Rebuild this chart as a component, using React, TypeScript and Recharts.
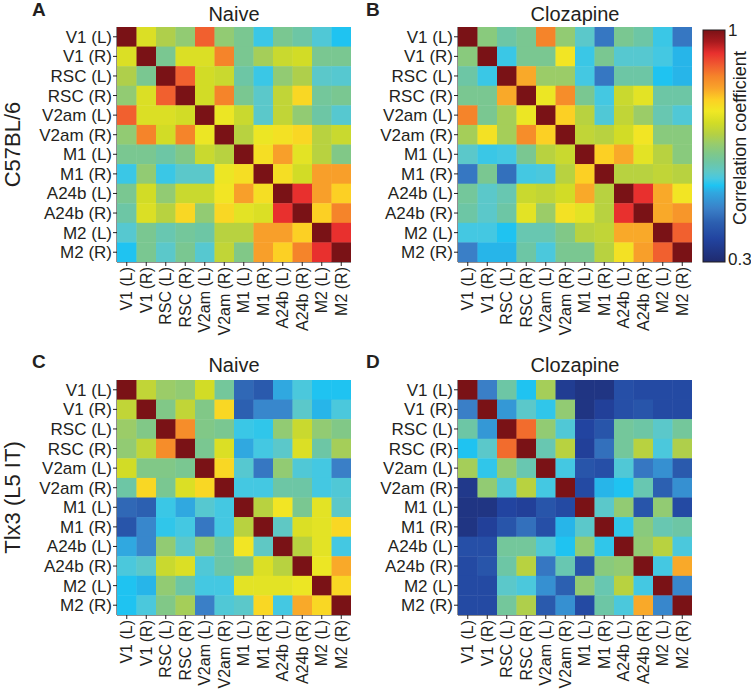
import React from 'react';
import { ScatterChart, Scatter, XAxis, YAxis } from 'recharts';

// region labels (rows top->bottom, columns left->right)
const REGIONS = ['V1 (L)', 'V1 (R)', 'RSC (L)', 'RSC (R)', 'V2am (L)', 'V2am (R)', 'M1 (L)', 'M1 (R)', 'A24b (L)', 'A24b (R)', 'M2 (L)', 'M2 (R)'];

// correlation matrices
const C57_NAIVE = [
  [1, 0.73, 0.68, 0.65, 0.89, 0.65, 0.62, 0.545, 0.62, 0.6, 0.56, 0.53],
  [0.73, 1, 0.62, 0.73, 0.73, 0.86, 0.62, 0.67, 0.71, 0.72, 0.62, 0.62],
  [0.68, 0.62, 1, 0.89, 0.72, 0.71, 0.6, 0.545, 0.65, 0.68, 0.57, 0.565],
  [0.65, 0.73, 0.89, 1, 0.72, 0.86, 0.62, 0.57, 0.7, 0.78, 0.61, 0.62],
  [0.89, 0.73, 0.73, 0.72, 1, 0.75, 0.71, 0.57, 0.7, 0.65, 0.6, 0.565],
  [0.65, 0.86, 0.72, 0.86, 0.75, 1, 0.69, 0.75, 0.765, 0.78, 0.69, 0.71],
  [0.62, 0.62, 0.6, 0.63, 0.71, 0.69, 1, 0.77, 0.83, 0.74, 0.69, 0.63],
  [0.545, 0.65, 0.545, 0.57, 0.57, 0.75, 0.77, 1, 0.77, 0.72, 0.83, 0.83],
  [0.62, 0.72, 0.65, 0.71, 0.71, 0.76, 0.83, 0.77, 1, 0.93, 0.83, 0.79],
  [0.6, 0.73, 0.69, 0.78, 0.65, 0.78, 0.74, 0.73, 0.93, 1, 0.79, 0.86],
  [0.565, 0.62, 0.59, 0.61, 0.6, 0.69, 0.69, 0.83, 0.83, 0.79, 1, 0.93],
  [0.53, 0.62, 0.57, 0.62, 0.565, 0.7, 0.63, 0.83, 0.79, 0.86, 0.93, 1],
];

const C57_CLOZ = [
  [1, 0.64, 0.6, 0.62, 0.86, 0.65, 0.57, 0.45, 0.62, 0.6, 0.545, 0.45],
  [0.64, 1, 0.545, 0.62, 0.62, 0.76, 0.545, 0.62, 0.565, 0.565, 0.55, 0.52],
  [0.6, 0.545, 1, 0.82, 0.66, 0.66, 0.55, 0.45, 0.6, 0.6, 0.53, 0.52],
  [0.62, 0.62, 0.82, 1, 0.75, 0.85, 0.62, 0.55, 0.71, 0.74, 0.6, 0.6],
  [0.86, 0.62, 0.67, 0.75, 1, 0.79, 0.69, 0.56, 0.7, 0.66, 0.59, 0.56],
  [0.67, 0.765, 0.67, 0.85, 0.79, 1, 0.7, 0.69, 0.72, 0.76, 0.64, 0.64],
  [0.57, 0.545, 0.55, 0.62, 0.69, 0.71, 1, 0.79, 0.82, 0.74, 0.69, 0.64],
  [0.45, 0.62, 0.44, 0.55, 0.555, 0.69, 0.79, 1, 0.69, 0.69, 0.7, 0.69],
  [0.61, 0.57, 0.59, 0.71, 0.7, 0.72, 0.82, 0.69, 1, 0.93, 0.82, 0.76],
  [0.6, 0.57, 0.6, 0.74, 0.66, 0.765, 0.74, 0.69, 0.93, 1, 0.82, 0.84],
  [0.55, 0.55, 0.53, 0.59, 0.59, 0.63, 0.69, 0.7, 0.82, 0.82, 1, 0.89],
  [0.46, 0.52, 0.52, 0.6, 0.555, 0.62, 0.62, 0.69, 0.765, 0.83, 0.89, 1],
];

const TLX3_NAIVE = [
  [1, 0.7, 0.66, 0.65, 0.72, 0.61, 0.43, 0.41, 0.51, 0.555, 0.53, 0.53],
  [0.7, 1, 0.63, 0.7, 0.63, 0.78, 0.42, 0.47, 0.47, 0.57, 0.52, 0.555],
  [0.66, 0.63, 1, 0.85, 0.63, 0.62, 0.545, 0.54, 0.65, 0.71, 0.65, 0.63],
  [0.65, 0.7, 0.85, 1, 0.62, 0.73, 0.51, 0.55, 0.57, 0.73, 0.6, 0.67],
  [0.72, 0.63, 0.63, 0.62, 1, 0.78, 0.565, 0.45, 0.65, 0.56, 0.55, 0.46],
  [0.6, 0.78, 0.62, 0.73, 0.78, 1, 0.55, 0.55, 0.6, 0.6, 0.55, 0.56],
  [0.43, 0.42, 0.545, 0.51, 0.565, 0.55, 1, 0.69, 0.76, 0.62, 0.74, 0.57],
  [0.4, 0.47, 0.54, 0.55, 0.45, 0.55, 0.69, 1, 0.575, 0.73, 0.74, 0.78],
  [0.51, 0.47, 0.65, 0.57, 0.65, 0.6, 0.76, 0.575, 1, 0.69, 0.74, 0.55],
  [0.555, 0.57, 0.71, 0.73, 0.56, 0.6, 0.62, 0.73, 0.69, 1, 0.75, 0.82],
  [0.53, 0.52, 0.65, 0.6, 0.55, 0.55, 0.74, 0.74, 0.74, 0.75, 1, 0.78],
  [0.53, 0.555, 0.63, 0.67, 0.46, 0.56, 0.57, 0.78, 0.55, 0.82, 0.78, 1],
];

const TLX3_CLOZ = [
  [1, 0.46, 0.6, 0.53, 0.67, 0.35, 0.33, 0.33, 0.39, 0.38, 0.38, 0.38],
  [0.46, 1, 0.49, 0.57, 0.54, 0.65, 0.33, 0.36, 0.39, 0.4, 0.38, 0.38],
  [0.6, 0.49, 1, 0.88, 0.65, 0.56, 0.37, 0.4, 0.61, 0.6, 0.57, 0.61],
  [0.53, 0.57, 0.88, 1, 0.59, 0.69, 0.36, 0.44, 0.61, 0.69, 0.555, 0.68],
  [0.67, 0.54, 0.65, 0.59, 1, 0.55, 0.4, 0.39, 0.56, 0.45, 0.48, 0.41],
  [0.34, 0.65, 0.56, 0.69, 0.55, 1, 0.38, 0.52, 0.53, 0.59, 0.42, 0.48],
  [0.33, 0.33, 0.37, 0.36, 0.4, 0.38, 1, 0.57, 0.65, 0.4, 0.65, 0.38],
  [0.33, 0.36, 0.4, 0.44, 0.39, 0.52, 0.57, 1, 0.54, 0.64, 0.59, 0.6],
  [0.39, 0.39, 0.61, 0.61, 0.56, 0.53, 0.65, 0.54, 1, 0.65, 0.69, 0.555],
  [0.38, 0.4, 0.6, 0.69, 0.45, 0.59, 0.4, 0.64, 0.65, 1, 0.55, 0.82],
  [0.38, 0.38, 0.57, 0.555, 0.48, 0.42, 0.65, 0.59, 0.69, 0.55, 1, 0.47],
  [0.38, 0.38, 0.61, 0.68, 0.41, 0.48, 0.38, 0.6, 0.555, 0.82, 0.47, 1],
];

const V_MIN = 0.3;
const V_MAX = 1;

// colormap stops sampled from the colour bar
const CMAP: [number, string][] = [
  [0.0, '#1f2a6e'],
  [0.1, '#2244a0'],
  [0.17, '#2c5fb0'],
  [0.23, '#3a80c8'],
  [0.3, '#30a8e0'],
  [0.33, '#1ec4f2'],
  [0.36, '#48c8e0'],
  [0.39, '#5ec8c6'],
  [0.43, '#6ec6a4'],
  [0.47, '#80c888'],
  [0.51, '#98cc6c'],
  [0.55, '#b4d044'],
  [0.6, '#d2dc26'],
  [0.65, '#f0e824'],
  [0.7, '#fcd024'],
  [0.75, '#f9a32a'],
  [0.8, '#f5842a'],
  [0.85, '#f05a30'],
  [0.9, '#e8302e'],
  [0.95, '#a81a1e'],
  [1.0, '#7a1216'],
];

const hexRgb = (h: string) => [1, 3, 5].map((i) => parseInt(h.slice(i, i + 2), 16));

function colorOf(v: number) {
  const t = Math.max(0, Math.min(1, (v - V_MIN) / (V_MAX - V_MIN)));
  for (let i = 1; i < CMAP.length; i++) {
    if (t <= CMAP[i][0]) {
      const [t0, c0] = CMAP[i - 1];
      const [t1, c1] = CMAP[i];
      const f = (t - t0) / (t1 - t0);
      const a = hexRgb(c0);
      const b = hexRgb(c1);
      const rgb = a.map((x, k) => Math.round(x + (b[k] - x) * f));
      return `rgb(${rgb.join(',')})`;
    }
  }
  return CMAP[CMAP.length - 1][1];
}

const FONT = '"Liberation Sans", Arial, sans-serif';
const TXT = '#231f20';
const Y_TICK_FS = 17;
const X_TICK_FS = 16;
const IDX = REGIONS.map((_, i) => i);

const CHART_W = 361;
const CHART_H = 345;
const MARGIN = { top: 27, right: 10, bottom: 0, left: 0 };
const Y_W = 117;
const X_H = 83;
const PLOT_W = CHART_W - Y_W - MARGIN.right;
const PLOT_H = CHART_H - MARGIN.top - X_H;

const XTick = (props: any) => {
  const { x, y, payload } = props;
  return (
    <g transform={`translate(${x},${y})`}>
      <text transform='rotate(-90)' textAnchor='end' dy='0.35em' fontSize={X_TICK_FS} fill={TXT} fontFamily={FONT}>
        {REGIONS[payload.value]}
      </text>
    </g>
  );
};

type HeatmapProps = { matrix: number[][]; left: number; top: number };

function Heatmap({ matrix, left, top }: HeatmapProps) {
  const points = matrix.flatMap((row, i) => row.map((v, j) => ({ x: j, y: i, v })));
  const cw = PLOT_W / 12;
  const ch = PLOT_H / 12;

  return (
    <div style={{ position: 'absolute', left, top }}>
      <ScatterChart width={CHART_W} height={CHART_H} margin={MARGIN}>
        <XAxis
          type='number'
          dataKey='x'
          domain={[-0.5, 11.5]}
          ticks={IDX}
          interval={0}
          height={X_H}
          tickSize={4}
          tickMargin={1}
          tick={<XTick />}
          axisLine={{ stroke: TXT }}
          tickLine={{ stroke: TXT }}
          allowDataOverflow
        />
        <YAxis
          type='number'
          dataKey='y'
          domain={[-0.5, 11.5]}
          ticks={IDX}
          interval={0}
          reversed
          width={Y_W}
          tickSize={4}
          tickMargin={1}
          tickFormatter={(v: number) => REGIONS[v]}
          tick={{ fontSize: Y_TICK_FS, fill: TXT, fontFamily: FONT }}
          axisLine={{ stroke: TXT }}
          tickLine={{ stroke: TXT }}
          allowDataOverflow
        />
        <Scatter
          data={points}
          isAnimationActive={false}
          shape={(p: any) => (
            <rect
              x={p.cx - cw / 2}
              y={p.cy - ch / 2}
              width={cw + 0.4}
              height={ch + 0.4}
              fill={colorOf(p.payload.v)}
            />
          )}
        />
      </ScatterChart>
    </div>
  );
}

export default function App() {
  const barX = 703;
  const barTop = 30;
  const barBottom = 262;

  return (
    <div style={{ position: 'relative', width: 751, height: 691, overflow: 'hidden', fontFamily: FONT, background: '#fff' }}>
      <style>{'body{margin:0}'}</style>
      <Heatmap matrix={C57_NAIVE} left={0} top={0} />
      <Heatmap matrix={C57_CLOZ} left={341} top={0} />
      <Heatmap matrix={TLX3_NAIVE} left={0} top={353} />
      <Heatmap matrix={TLX3_CLOZ} left={341} top={353} />

      <svg width={751} height={691} style={{ position: 'absolute', left: 0, top: 0, pointerEvents: 'none' }}>
        <defs>
          <linearGradient id='cbar' x1='0' y1='1' x2='0' y2='0'>
            {CMAP.map(([t, c]) => (
              <stop key={t} offset={t} stopColor={c} />
            ))}
          </linearGradient>
        </defs>

        {/* panel letters */}
        <g fontFamily={FONT} fontWeight='bold' fontSize={19} fill={TXT}>
          <text x={32} y={16}>A</text>
          <text x={366} y={16}>B</text>
          <text x={32} y={368}>C</text>
          <text x={366} y={368}>D</text>
        </g>

        {/* titles */}
        <g fontFamily={FONT} fontSize={20} fill={TXT} textAnchor='middle'>
          <text x={117 + PLOT_W / 2} y={21}>Naive</text>
          <text x={458 + PLOT_W / 2} y={21}>Clozapine</text>
          <text x={117 + PLOT_W / 2} y={372}>Naive</text>
          <text x={458 + PLOT_W / 2} y={372}>Clozapine</text>
        </g>

        {/* row group labels */}
        <g fontFamily={FONT} fontSize={22} fill={TXT} textAnchor='middle'>
          <text transform={`translate(20,${27 + PLOT_H / 2}) rotate(-90)`}>C57BL/6</text>
          <text transform={`translate(20,${380 + PLOT_H / 2}) rotate(-90)`}>Tlx3 (L5 IT)</text>
        </g>

        {/* colour bar */}
        <rect x={barX} y={barTop} width={22} height={barBottom - barTop} fill='url(#cbar)' stroke={TXT} strokeWidth={1} />
        <g fontFamily={FONT} fontSize={17} fill={TXT}>
          <text x={728} y={36}>1</text>
          <text x={728} y={265}>0.3</text>
          <text
            fontSize={18}
            textAnchor='middle'
            transform={`translate(746,${(barTop + barBottom) / 2 - 8}) rotate(-90)`}
          >
            Correlation coefficient
          </text>
        </g>
      </svg>
    </div>
  );
}
